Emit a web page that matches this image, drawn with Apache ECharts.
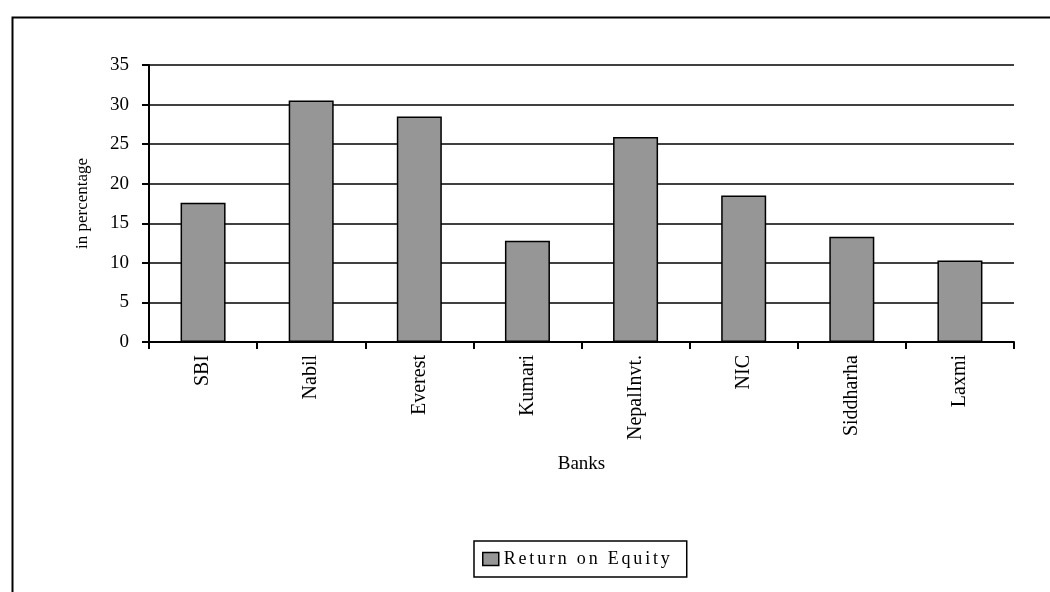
<html>
<head>
    <meta charset="utf-8">
    <title>Return on Equity</title>
    <script src="https://cdn.jsdelivr.net/npm/echarts@6/dist/echarts.min.js"></script>
    <style>
        html, body { margin: 0; padding: 0; background: #fff; }
        #main { width: 1050px; height: 592px; }
    </style>
</head>
<body>
    <div id="main"></div>
    <script type="text/javascript">
        // data
        var banks = ['SBI', 'Nabil', 'Everest', 'Kumari', 'NepalInvt.', 'NIC', 'Siddharha', 'Laxmi'];
        var roe = [17.6, 30.5, 28.5, 12.8, 25.9, 18.5, 13.3, 10.3];
        var yTicks = [0, 5, 10, 15, 20, 25, 30, 35];

        var serif = '"Liberation Serif", "Times New Roman", serif';
        var myChart = echarts.init(document.getElementById('main'));

        // spread letters out a bit: one rich token per character
        function spaced(txt) {
            return txt.split('').map(function (c) { return '{s|' + c + '}'; }).join('');
        }

        var option = {
            animation: false,
            backgroundColor: '#fff',
            graphic: [{
                // outer frame (runs off the right and bottom edges)
                type: 'rect',
                left: 10, top: 15,
                shape: { width: 1100, height: 620 },
                style: { fill: 'none', stroke: '#000', lineWidth: 2 },
                silent: true
            }],
            legend: {
                left: 474,
                top: 541,
                data: ['Return on Equity'],
                icon: 'rect',
                itemWidth: 16,
                itemHeight: 13,
                itemGap: 4,
                itemStyle: { borderColor: '#000', borderWidth: 1.5 },
                padding: [9, 17, 9, 8],
                borderColor: '#000',
                borderWidth: 1.5,
                formatter: function (name) { return spaced(name); },
                textStyle: {
                    fontFamily: serif, fontSize: 18, color: '#000',
                    rich: { s: { fontFamily: serif, fontSize: 18, color: '#000', padding: [0, 2.8, 0, 0] } }
                }
            },
            grid: {
                left: 149,
                right: 36,
                top: 65,
                bottom: 250
            },
            xAxis: {
                type: 'category',
                data: banks,
                name: 'Banks',
                nameLocation: 'middle',
                nameGap: 113,
                nameTextStyle: { fontFamily: serif, fontSize: 19, color: '#000' },
                axisLine: { lineStyle: { color: '#000', width: 2 } },
                axisTick: { show: true, length: 7, lineStyle: { color: '#000', width: 2 } },
                axisLabel: {
                    rotate: 90,
                    margin: 13,
                    interval: 0,
                    fontFamily: serif,
                    fontSize: 20,
                    color: '#000'
                }
            },
            yAxis: {
                type: 'value',
                min: yTicks[0],
                max: yTicks[yTicks.length - 1],
                interval: 5,
                name: 'in percentage',
                nameLocation: 'middle',
                nameGap: 58,
                nameTextStyle: { fontFamily: serif, fontSize: 17, color: '#000' },
                axisLine: { show: true, lineStyle: { color: '#000', width: 2 } },
                axisTick: { show: true, length: 7, lineStyle: { color: '#000', width: 2 } },
                axisLabel: { margin: 20, fontFamily: serif, fontSize: 19, color: '#000' },
                splitLine: { lineStyle: { color: '#000', width: 1.5 } }
            },
            series: [{
                name: 'Return on Equity',
                type: 'bar',
                data: roe,
                barWidth: 45,
                itemStyle: { color: '#969696', borderColor: '#000', borderWidth: 1.5 }
            }]
        };
        myChart.setOption(option);
    </script>
</body>
</html>
